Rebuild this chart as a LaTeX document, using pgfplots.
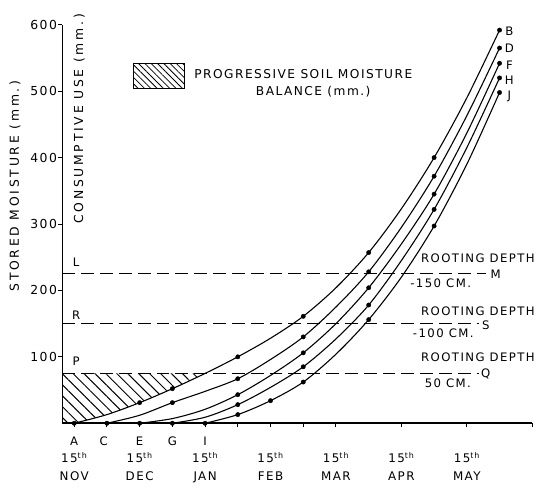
\documentclass[border=0pt]{standalone}
\usepackage{fontspec}
\setmainfont{DejaVu Sans}
\newfontfamily\lab[LetterSpace=12]{DejaVu Sans}
\newfontfamily\labw[LetterSpace=22]{DejaVu Sans}
\usepackage{pgfplots}
\pgfplotsset{compat=1.18}
\usepgfplotslibrary{fillbetween}
\usetikzlibrary{patterns.meta}
\newcommand\lbl{\lab\fontsize{11.8}{14}\selectfont}
\begin{document}
\begin{tikzpicture}
\begin{axis}[
  at={(63pt,60pt)}, anchor=south west,
  width=474pt, height=402pt, scale only axis,
  xmin=-0.18, xmax=7, ymin=0, ymax=600,
  axis x line=bottom, axis y line=left,
  axis line style={-, line width=1.5pt},
  clip mode=individual,
  xtick={0,1,2,3,4,5,6},
  xticklabels={{15\textsuperscript{th}\\NOV},{15\textsuperscript{th}\\DEC},{15\textsuperscript{th}\\JAN},{15\textsuperscript{th}\\FEB},{15\textsuperscript{th}\\MAR},{15\textsuperscript{th}\\APR},{15\textsuperscript{th}\\MAY}},
  extra x ticks={0.5,1.5,2.5,3.5,7},
  extra x tick labels={},
  xticklabel style={align=center, font=\lab\fontsize{12}{18}\selectfont, yshift=-22pt},
  ytick={100,200,300,400,500,600},
  /pgf/number format/assume math mode=true,
  yticklabel style={font=\lab\fontsize{12.5}{14}\selectfont, xshift=2pt},
  tick align=outside, major tick length=4pt,
  tick style={line width=1pt, black},
  ylabel={STORED MOISTURE (mm.)},
  ylabel style={at={(rel axis cs:-0.101,0.595)}, anchor=center, font=\labw\fontsize{12.5}{14}\selectfont},
]
% hatched progressive soil moisture balance
\addplot[draw=none, name path=Bext, forget plot] coordinates {(-0.18,0)(0,0)(0.5,13)(1.0,31)(1.5,52)(2.0,75)(2.5,100)};
\addplot[draw=none, name path=top, forget plot] coordinates {(-0.18,75)(2.5,75)};
\addplot[draw=none, pattern={Lines[angle=-45,distance=7.8pt,line width=1pt]}] fill between[of=Bext and top, soft clip={domain=-0.18:2.0}];

% rooting depth lines
\addplot[black, line width=1.2pt, dash pattern=on 13pt off 6pt] coordinates {(-0.18,225)(6.29,225)};
\addplot[black, line width=1.2pt, dash pattern=on 13pt off 6pt] coordinates {(-0.18,150)(6.18,150)};
\addplot[black, line width=1.2pt, dash pattern=on 13pt off 6pt] coordinates {(-0.18,75)(6.18,75)};

% curves
\addplot[black, line width=1.1pt, smooth] coordinates {(0,0)(0.5,13)(1.0,31)(1.5,52)(2.0,75)(2.5,100)(3.0,128)(3.5,161)(4.0,204)(4.5,257)(5.0,323)(5.5,400)(6.0,490)(6.5,592)};
\addplot[black, line width=1.1pt, smooth] coordinates {(0.5,0)(1.0,12)(1.5,31)(2.0,48)(2.5,67)(3.0,96)(3.5,130)(4.0,175)(4.5,228)(5.0,295)(5.5,372)(6.0,463)(6.5,565)};
\addplot[black, line width=1.1pt, smooth] coordinates {(1.0,0)(1.5,7)(2.0,21)(2.5,43)(3.0,72)(3.5,106)(4.0,150)(4.5,204)(5.0,270)(5.5,345)(6.0,437)(6.5,542)};
\addplot[black, line width=1.1pt, smooth] coordinates {(1.5,0)(2.0,9)(2.5,28)(3.0,54)(3.5,85)(4.0,127)(4.5,178)(5.0,245)(5.5,322)(6.0,415)(6.5,520)};
\addplot[black, line width=1.1pt, smooth] coordinates {(2.0,0)(2.5,13)(3.0,34)(3.5,62)(4.0,104)(4.5,156)(5.0,220)(5.5,297)(6.0,390)(6.5,498)};

% observation dots
\addplot[only marks, mark=*, mark size=2.2pt, black] coordinates {(0,0)(1.0,31)(1.5,52)(2.5,100)(3.5,161)(4.5,257)(5.5,400)(6.5,592)};
\addplot[only marks, mark=*, mark size=2.2pt, black] coordinates {(0.5,0)(1.5,31)(2.5,67)(3.5,130)(4.5,228)(5.5,372)(6.5,565)};
\addplot[only marks, mark=*, mark size=2.2pt, black] coordinates {(1.0,0)(2.5,43)(3.5,106)(4.5,204)(5.5,345)(6.5,542)};
\addplot[only marks, mark=*, mark size=2.2pt, black] coordinates {(1.5,0)(2.5,28)(3.5,85)(4.5,178)(5.5,322)(6.5,520)};
\addplot[only marks, mark=*, mark size=2.2pt, black] coordinates {(2.0,0)(2.5,13)(3.0,34)(3.5,62)(4.5,156)(5.5,297)(6.5,498)};

% annotations
\node[font=\labw\fontsize{12.5}{14}\selectfont, rotate=90] at (rel axis cs:0.036,0.764) {CONSUMPTIVE USE (mm.)};
\node[font=\lbl] at (axis cs:0.03,242) {L};
\node[font=\lbl] at (axis cs:0.03,163) {R};
\node[font=\lbl] at (axis cs:0.03,93) {P};
\node[font=\lbl] at (axis cs:6.44,224) {M};
\node[font=\lbl] at (axis cs:6.29,147) {S};
\node[font=\lbl] at (axis cs:6.29,75) {Q};
\node[font=\lbl] at (axis cs:6.17,248) {ROOTING DEPTH};
\node[font=\lbl] at (axis cs:5.6,211) {-150 CM.};
\node[font=\lbl] at (axis cs:6.17,168) {ROOTING DEPTH};
\node[font=\lbl] at (axis cs:5.64,135) {-100 CM.};
\node[font=\lbl] at (axis cs:6.17,99) {ROOTING DEPTH};
\node[font=\lbl] at (axis cs:5.71,60) {50 CM.};
\node[font=\lbl] at (axis cs:6.65,590) {B};
\node[font=\lbl] at (axis cs:6.65,564) {D};
\node[font=\lbl] at (axis cs:6.65,539) {F};
\node[font=\lbl] at (axis cs:6.65,516) {H};
\node[font=\lbl] at (axis cs:6.65,492) {J};
\node[font=\lbl, yshift=-18pt] at (axis cs:0,0) {A};
\node[font=\lbl, yshift=-18pt] at (axis cs:0.45,0) {C};
\node[font=\lbl, yshift=-18pt] at (axis cs:1.0,0) {E};
\node[font=\lbl, yshift=-18pt] at (axis cs:1.5,0) {G};
\node[font=\lbl, yshift=-18pt] at (axis cs:2.0,0) {I};
\end{axis}
% legend
\draw[line width=1pt, pattern={Lines[angle=-45,distance=4.5pt,line width=0.8pt]}] (135pt,398pt) rectangle (186pt,423pt);
\node[font=\lab\fontsize{12.3}{14}\selectfont] at (306pt,412pt) {PROGRESSIVE SOIL MOISTURE};
\node[font=\lab\fontsize{12.3}{14}\selectfont] at (316pt,395pt) {BALANCE (mm.)};
\path (0pt,0pt) rectangle (538pt,487pt);
\end{tikzpicture}
\end{document}
